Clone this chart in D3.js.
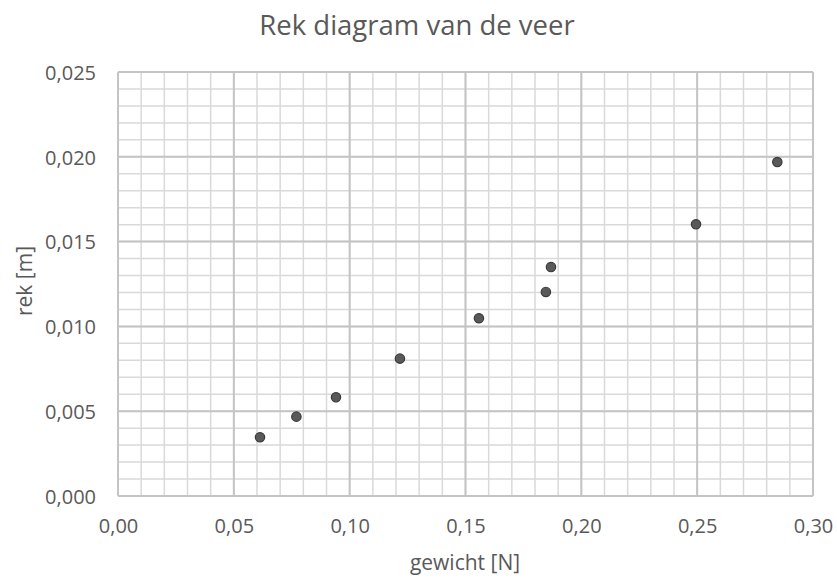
<!DOCTYPE html>
<html><head><meta charset="utf-8">
<script src="https://cdn.jsdelivr.net/npm/d3@7"></script>
<style>body{margin:0;background:#fff;} text{font-family:"Open Sans",sans-serif;fill:#595959;}</style>
</head><body><svg id="c" width="837" height="579"></svg>
<script>
const gewicht = [0.0613, 0.0770, 0.0941, 0.1217, 0.1558, 0.1847, 0.1869, 0.2495, 0.2846];
const rek = [0.00346, 0.00468, 0.00582, 0.00810, 0.01048, 0.01203, 0.01350, 0.01602, 0.01969];
const xTicks = [0, 0.05, 0.10, 0.15, 0.20, 0.25, 0.30];
const yTicks = [0, 0.005, 0.010, 0.015, 0.020, 0.025];
const fmt2 = d => d.toFixed(2).replace('.', ',');
const fmt3 = d => d.toFixed(3).replace('.', ',');

const svg = d3.select('#c');
const L = 118, R = 813, T = 72, B = 496;
const x = d3.scaleLinear().domain([0, 0.30]).range([L, R]);
const y = d3.scaleLinear().domain([0, 0.025]).range([B, T]);

const minorX = d3.range(0, 31).map(i => i / 100);
const minorY = d3.range(0, 26).map(i => i / 1000);
const g = svg.append('g');
g.selectAll('.mx').data(minorX).join('line')
  .attr('x1', d => x(d)).attr('x2', d => x(d)).attr('y1', T).attr('y2', B)
  .attr('stroke', '#d9d9d9').attr('stroke-width', 1.5);
g.selectAll('.my').data(minorY).join('line')
  .attr('y1', d => y(d)).attr('y2', d => y(d)).attr('x1', L).attr('x2', R)
  .attr('stroke', '#d9d9d9').attr('stroke-width', 1.5);
g.selectAll('.Mx').data(xTicks).join('line')
  .attr('x1', d => x(d)).attr('x2', d => x(d)).attr('y1', T).attr('y2', B)
  .attr('stroke', '#c4c4c4').attr('stroke-width', 2);
g.selectAll('.My').data(yTicks).join('line')
  .attr('y1', d => y(d)).attr('y2', d => y(d)).attr('x1', L).attr('x2', R)
  .attr('stroke', '#c4c4c4').attr('stroke-width', 2);

const xAxis = d3.axisBottom(x).tickValues(xTicks).tickFormat(fmt2).tickSize(0).tickPadding(0);
const xa = svg.append('g').attr('transform', `translate(0,${B})`).call(xAxis);
xa.select('.domain').remove();
xa.selectAll('text').attr('dy', 0).attr('y', 37).style('font-size', '20px').style('fill', '#595959');

const yAxis = d3.axisLeft(y).tickValues(yTicks).tickFormat(fmt3).tickSize(0).tickPadding(0);
const ya = svg.append('g').attr('transform', `translate(96,0)`).call(yAxis);
ya.select('.domain').remove();
ya.selectAll('text').attr('dy', '0.36em').attr('x', 0).style('font-size', '20px').style('fill', '#595959');

svg.selectAll('.pt').data(gewicht).join('circle')
  .attr('cx', d => x(d)).attr('cy', (d, i) => y(rek[i])).attr('r', 4.7)
  .attr('fill', '#595959').attr('stroke', '#3a3a3a').attr('stroke-width', 1.2);

svg.append('text').attr('x', 417).attr('y', 35).attr('text-anchor', 'middle')
  .style('font-size', '27.5px').text('Rek diagram van de veer');
svg.append('text').attr('x', 465).attr('y', 570).attr('text-anchor', 'middle')
  .style('font-size', '21px').text('gewicht [N]');
svg.append('text').attr('transform', 'translate(32,281) rotate(-90)').attr('text-anchor', 'middle')
  .style('font-size', '21px').text('rek [m]');
</script></body></html>
